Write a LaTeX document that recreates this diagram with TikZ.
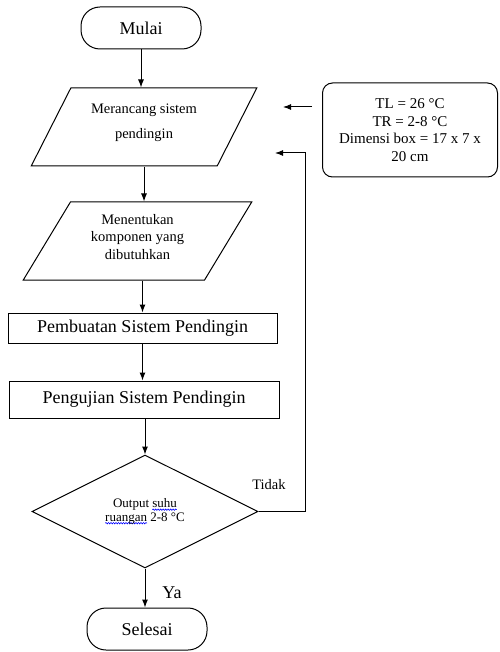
\documentclass[tikz,border=0pt]{standalone}
\usepackage{fontspec}
\setmainfont{Liberation Serif}
\usetikzlibrary{arrows.meta,shapes,positioning,decorations.pathmorphing}
\newsavebox{\wavebox}
\newcommand{\spellwave}[1]{\sbox{\wavebox}{#1}\tikz[overlay]\draw[blue, line width=0.6pt,
decorate, decoration={snake, amplitude=0.7pt, segment length=2.5pt}]
(0pt,-1.8pt) -- (\wd\wavebox,-1.8pt);\usebox{\wavebox}}

\begin{document}
\begin{tikzpicture}[x=1pt,y=-1pt]
%[auto,terminal/.style={rounded corners,draw},
%io/.style={trapezium,draw}]
\tikzstyle{every node}=[font=\fontsize{18}{20}\selectfont]
\tikzstyle{terminal}=[draw, line width=1pt, rectangle, rounded corners=19pt,
minimum width=120pt, minimum height=42pt]
\tikzstyle{io}=[draw, line width=1pt, trapezium, trapezium left angle=60,
trapezium right angle=120, trapezium stretches=true, minimum height=78pt,
align=center, font=\fontsize{14.5}{17.5}\selectfont]
\tikzstyle{process}=[draw, line width=1pt, rectangle, inner sep=0pt]
\tikzstyle{flow}=[-{Latex[length=8pt,width=6pt]}, line width=1pt]

\useasboundingbox (0,0) rectangle (499,652);

\node[terminal] at (141, 28) (mulai) {Mulai};

\node[io, minimum width=226pt, text depth=12pt] at (144, 127) (rancang) {
Merancang sistem\\[7pt]
pendingin
};

\node[io, minimum width=229pt, text depth=9pt] at (137.5, 241) (komponen) {
Menentukan\\
komponen yang\\
dibutuhkan
};

\node[process, minimum width=269pt, minimum height=30pt] at (142.5, 328) (buat)
{Pembuatan Sistem Pendingin};

\node[process, minimum width=270pt, minimum height=37pt] at (144, 399.5) (uji)
{Pengujian Sistem Pendingin};

\node[draw, line width=1pt, diamond, inner sep=0pt, align=center,
minimum width=226pt, minimum height=113pt,
font=\fontsize{13}{13.5}\selectfont] at (145, 511.5) (cek) {
Output \spellwave{suhu}\\
\spellwave{ruangan} 2-8 °C
};

\node[terminal] at (147, 629) (selesai) {Selesai};

\node[draw, line width=1pt, rectangle, rounded corners=10pt, align=center,
minimum width=175pt, minimum height=94pt,
font=\fontsize{15}{17.5}\selectfont] at (410, 130) (param) {
TL = 26 °C\\
TR = 2-8 °C\\
Dimensi box = 17 x 7 x\\
20 cm
};

\node[font=\fontsize{14.5}{16}\selectfont] at (269, 485) (tidak) {Tidak};
\node at (172, 593) (ya) {Ya};

\coordinate (paramOut) at (312, 107);
\coordinate (paramIn) at (283, 107);
\coordinate (loopTop) at (305, 153);
\coordinate (loopEnd) at (275, 153);

\draw[flow] (mulai.south) -- (mulai.south |- rancang.north);
\draw[flow] (rancang.south) -- (rancang.south |- komponen.north);
\draw[flow] (buat.north |- komponen.south) -- (buat.north);
\draw[flow] (buat.south) -- (buat.south |- uji.north);
\draw[flow] (cek.north |- uji.south) -- (cek.north);
\draw[flow] (cek.south) -- (cek.south |- selesai.north);

\draw[flow] (paramOut) -- (paramIn);
\draw[flow] (cek.east) -| (loopTop) -- (loopEnd);

\end{tikzpicture}
\end{document}
